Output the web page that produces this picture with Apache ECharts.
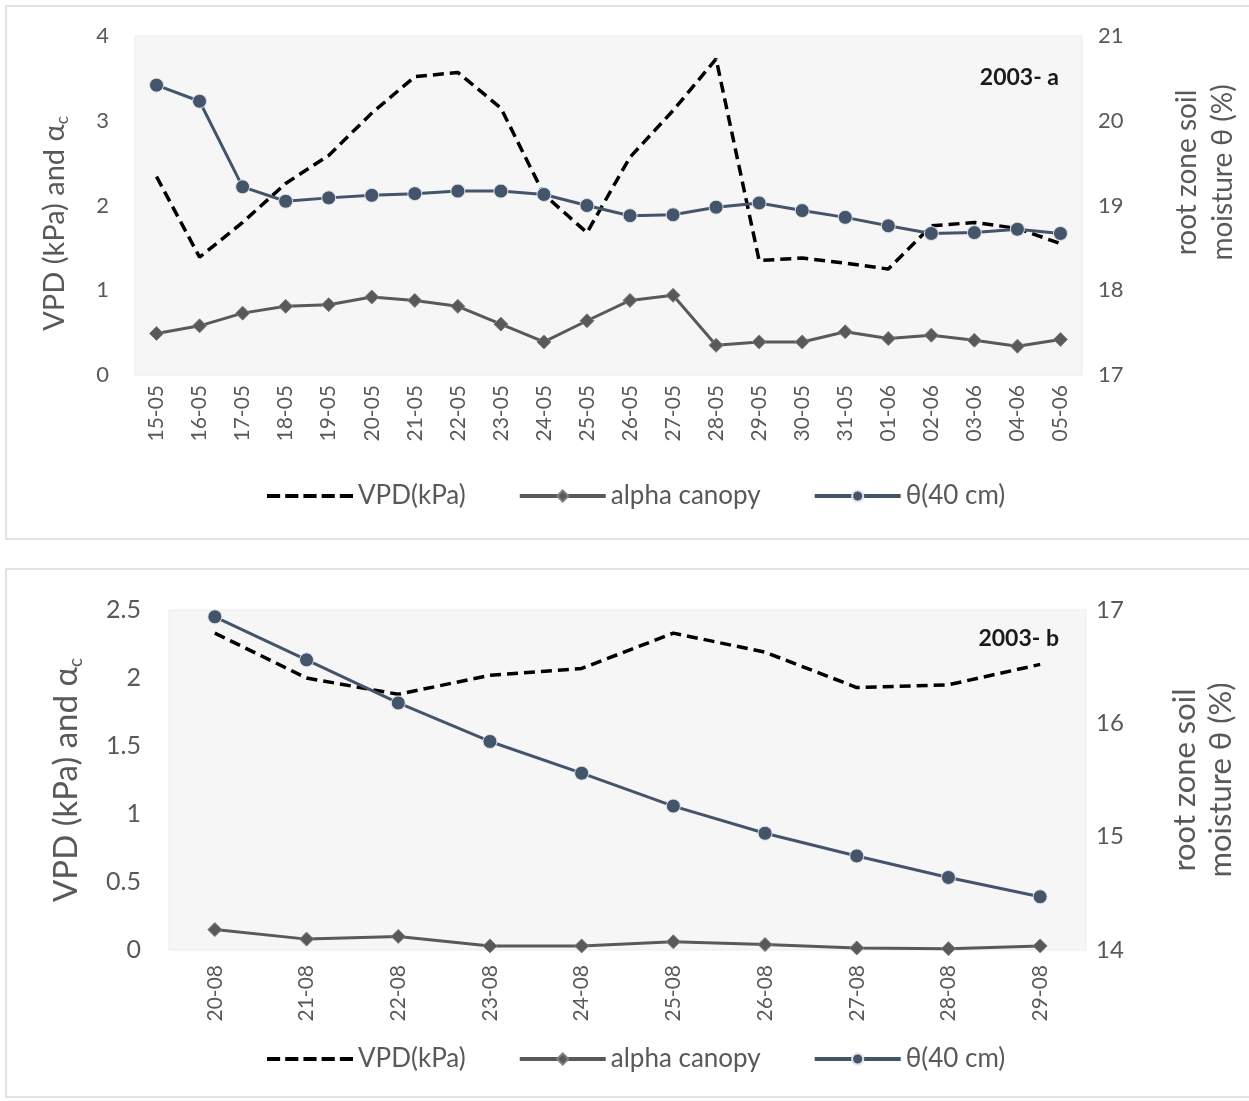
<!DOCTYPE html>
<html>
<head>
<meta charset="utf-8">
<script src="https://cdn.jsdelivr.net/npm/echarts@6/dist/echarts.min.js"></script>
<style>
html,body{margin:0;padding:0;background:#fff;}
#c{width:1249px;height:1101px;}
</style>
</head>
<body>
<div id="c"></div>
<script>
// ---- Panel a (2003- a) ----
const datesA = ['15-05','16-05','17-05','18-05','19-05','20-05','21-05','22-05','23-05','24-05','25-05','26-05','27-05','28-05','29-05','30-05','31-05','01-06','02-06','03-06','04-06','05-06'];
const vpdA   = [2.34,1.39,1.80,2.26,2.59,3.09,3.52,3.57,3.15,2.13,1.68,2.57,3.12,3.73,1.35,1.38,1.32,1.25,1.76,1.80,1.73,1.55];
const alphaA = [0.49,0.58,0.73,0.81,0.83,0.92,0.88,0.81,0.60,0.39,0.64,0.88,0.94,0.35,0.39,0.39,0.51,0.43,0.47,0.41,0.34,0.42];
const thetaA = [20.42,20.23,19.22,19.05,19.09,19.12,19.14,19.17,19.17,19.13,19.00,18.88,18.89,18.98,19.03,18.94,18.86,18.76,18.67,18.68,18.72,18.67];

// ---- Panel b (2003- b) ----
const datesB = ['20-08','21-08','22-08','23-08','24-08','25-08','26-08','27-08','28-08','29-08'];
const vpdB   = [2.33,2.00,1.88,2.02,2.07,2.33,2.19,1.93,1.95,2.10];
const alphaB = [0.15,0.08,0.10,0.03,0.03,0.06,0.04,0.015,0.01,0.03];
const thetaB = [16.94,16.56,16.18,15.84,15.56,15.27,15.03,14.83,14.64,14.47];

const legendNames = ['VPD(kPa)','alpha canopy','θ(40 cm)'];
const panelLabels = ['2003- a','2003- b'];
const leftName = 'VPD (kPa) and α{s|c}';
const rightName = 'root zone soil\nmoisture θ (%)';

const FONT = 'Lato, "Open Sans", sans-serif';
const GREY = '#595959';
const BLUE = '#44546a';
const DASH_ICON = 'path://M0,0h13v4h-13z M18,0h13v4h-13z M36,0h13v4h-13z M54,0h13v4h-13z M72,0h13v4h-13z';

const chart = echarts.init(document.getElementById('c'), null, {renderer:'canvas'});

function xAxis(idx, data, margin){
  return {
    type:'category', gridIndex:idx, data:data, boundaryGap:true,
    axisLine:{show:false}, axisTick:{show:false}, splitLine:{show:false},
    axisLabel:{rotate:90, interval:0, fontSize:21, color:GREY, fontFamily:FONT, margin:margin}
  };
}
function yLeft(idx, min, max, interval, margin, gap, fs, nfs, pad){
  return {
    type:'value', gridIndex:idx, position:'left', min:min, max:max, interval:interval,
    axisLine:{show:false}, axisTick:{show:false}, splitLine:{show:false},
    axisLabel:{fontSize:fs, color:GREY, fontFamily:FONT, margin:margin},
    name:leftName, nameLocation:'middle', nameGap:gap,
    nameTextStyle:{fontSize:nfs, color:GREY, fontFamily:FONT, lineHeight:nfs+4, padding:pad,
      rich:{s:{fontSize:Math.round(nfs*0.57), color:GREY, fontFamily:FONT, verticalAlign:'bottom', lineHeight:Math.round(nfs*0.57)}}}
  };
}
function yRight(idx, min, max, interval, margin, gap, fs, nfs, pad){
  return {
    type:'value', gridIndex:idx, position:'right', min:min, max:max, interval:interval,
    axisLine:{show:false}, axisTick:{show:false}, splitLine:{show:false},
    axisLabel:{fontSize:fs, color:GREY, fontFamily:FONT, margin:margin},
    name:rightName, nameLocation:'middle', nameGap:gap, nameRotate:90,
    nameTextStyle:{fontSize:nfs, color:GREY, fontFamily:FONT, lineHeight:36, align:'center', padding:pad}
  };
}
function seriesFor(x, yl, yr, vpd, alpha, theta){
  return [
    {name:legendNames[0], type:'line', xAxisIndex:x, yAxisIndex:yl, data:vpd,
     symbol:'none', color:'#000',
     lineStyle:{color:'#000', width:3.5, type:[11,6]}},
    {name:legendNames[1], type:'line', xAxisIndex:x, yAxisIndex:yl, data:alpha,
     symbol:'diamond', symbolSize:14, color:GREY,
     itemStyle:{color:GREY, borderColor:'#7f7f7f', borderWidth:1},
     lineStyle:{color:GREY, width:3}},
    {name:legendNames[2], type:'line', xAxisIndex:x, yAxisIndex:yr, data:theta,
     symbol:'circle', symbolSize:14, color:BLUE,
     itemStyle:{color:BLUE, borderColor:'#dfe3ea', borderWidth:1},
     lineStyle:{color:BLUE, width:3}}
  ];
}
function legend(top){
  return {
    top:top, left:262, orient:'horizontal', itemWidth:86, itemHeight:14, itemGap:52,
    textStyle:{fontSize:26, color:GREY, fontFamily:FONT},
    data:[
      {name:legendNames[0], icon:DASH_ICON, itemStyle:{color:'#000'}},
      {name:legendNames[1], lineStyle:{width:4, color:GREY}},
      {name:legendNames[2], lineStyle:{width:4, color:BLUE}}
    ]
  };
}

const option = {
  animation:false,
  backgroundColor:'#fff',
  graphic:[
    {type:'rect', z:-10, shape:{x:6,y:6,width:1260,height:533}, style:{fill:'#fff', stroke:'#d9d9d9', lineWidth:1.5}},
    {type:'rect', z:-10, shape:{x:6,y:569,width:1260,height:528}, style:{fill:'#fff', stroke:'#d9d9d9', lineWidth:1.5}}
  ],
  title:[
    {text:panelLabels[0], right:185, top:61, textStyle:{fontSize:23, fontWeight:'bold', color:'#1a1a1a', fontFamily:FONT}},
    {text:panelLabels[1], right:185, top:622, textStyle:{fontSize:23, fontWeight:'bold', color:'#1a1a1a', fontFamily:FONT}}
  ],
  grid:[
    {left:135, right:164, top:36, height:339, show:true, backgroundColor:'#f6f6f6', borderColor:'#ececec', borderWidth:1},
    {left:169, right:163, top:610, height:340, show:true, backgroundColor:'#f6f6f6', borderColor:'#ececec', borderWidth:1}
  ],
  legend:[legend(478), legend(1041)],
  xAxis:[xAxis(0,datesA,10), xAxis(1,datesB,15)],
  yAxis:[
    yLeft(0,0,4,1,26,64,22,29,[0,36,0,0]), yRight(0,17,21,1,16,87,22,28,[0,0,0,66]),
    yLeft(1,0,2.5,0.5,28,84,25,33,[0,0,0,0]), yRight(1,14,17,1,10,81,24,31,[0,0,0,0])
  ],
  series:[].concat(
    seriesFor(0,0,1,vpdA,alphaA,thetaA),
    seriesFor(1,2,3,vpdB,alphaB,thetaB)
  )
};
chart.setOption(option);
</script>
</body>
</html>
